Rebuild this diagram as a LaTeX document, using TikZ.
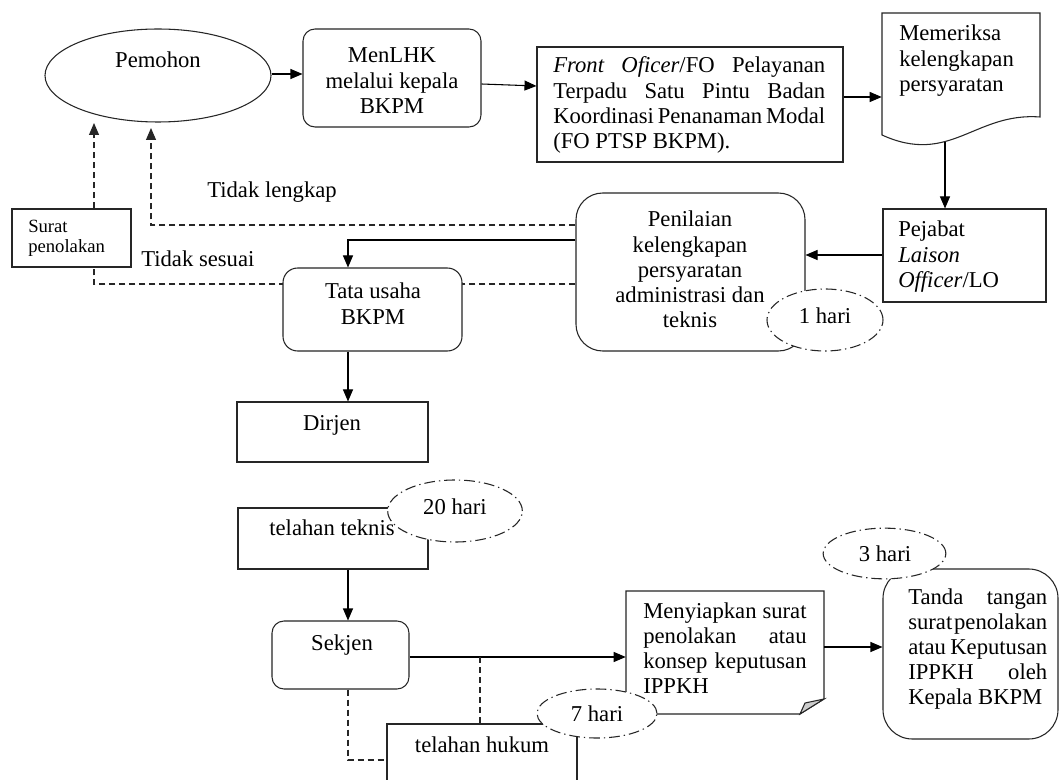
\documentclass[tikz,border=0pt]{standalone}
\usepackage{fontspec}
\setmainfont{Liberation Serif}
\usetikzlibrary{arrows.meta,fit,shapes.geometric}
\newcommand{\Jrow}[2]{\hbox to #1{\spaceskip=0.25em plus 1fil minus 0.25em\relax #2}}
\newcommand{\Crow}[2]{\hbox to #1{\hfil #2\hfil}}
\newcommand{\Lrow}[1]{\hbox{#1}}
\begin{document}
\begin{tikzpicture}[x=0.75pt,y=-0.75pt,
  every node/.style={font=\fontsize{17}{18.9}\selectfont, inner sep=0pt},
  shp/.style={draw=black!85, line width=0.8pt, inner sep=0pt},
  sqbox/.style={shp, rectangle, fill=white},
  rbox/.style={shp, rectangle, rounded corners=#1, fill=white},
  ghost/.style={rectangle, draw=none, inner sep=0pt},
  oval/.style={shp, ellipse},
  dur/.style={shp, ellipse, fill=white, dash pattern=on 8pt off 3pt on 1pt off 3pt},
  arr/.style={draw=black, line width=0.8pt, -{Triangle[length=9pt,width=7.5pt]}},
  dsh/.style={draw=black!85, line width=0.8pt, dash pattern=on 4.5pt off 3pt},
  dsharr/.style={dsh, -{Triangle[length=9pt,width=7.5pt]}},
  small/.style={font=\fontsize{14}{15}\selectfont}
]
\useasboundingbox (0,0) rectangle (1060,780);
\fill[white] (0,0) rectangle (1060,780);
\clip (0,0) rectangle (1060,780);

% ---------- top row ----------
\node[oval, minimum width=169.5pt, minimum height=69.75pt] (pem) at (158,75.5) {};
\node[rbox=9pt, fit={(303,29) (481,127)}] (men) {};
\node[sqbox, fit={(537,47) (843,162)}] (fo) {};
\node[ghost, fit={(882,13) (1040,142)}] (mem) {};
\draw[shp] (882,135) -- (882,13) -- (1040,13) -- (1040,117)
  .. controls (975,112) and (950,166) .. (882,135) -- cycle;
\node[sqbox, fit={(883,209) (1046,302)}] (pej) {};

% ---------- middle ----------
\node[rbox=20pt, fit={(576,193) (805,351)}] (pen) {};
\node[sqbox, fit={(12,209) (131,267)}] (sur) {};
\coordinate (pemA) at (151,128);
\coordinate (pemB) at (94,123);
\draw[dsharr] (pen.west |- 0,225) -| (pemA);
\draw[dsh] (pen.west |- 0,284) -- (94,284) -- (sur.south -| 94,0);
\draw[dsharr] (sur.north -| 94,0) -- (pemB);
\node[rbox=11pt, fit={(283,268) (462,351)}] (tu) {};
\node[dur, minimum width=87pt, minimum height=46.5pt] (d1) at (825,320) {};
\node[sqbox, fit={(237,402) (428,462)}] (dir) {};

% ---------- bottom ----------
\node[sqbox, fit={(238,508) (428,569)}] (tt) {};
\node[dur, minimum width=101pt, minimum height=46.5pt] (d20) at (455,511) {};
\node[rbox=9pt, fit={(272,621) (409,689)}] (sek) {};
\node[sqbox, fit={(387,724) (577,800)}] (th) {};
\node[ghost, fit={(626,591) (824,714)}] (meny) {};
\draw[shp, fill=white] (626,591) -- (824,591) -- (824,699) -- (800,714) -- (626,714) -- cycle;
\filldraw[shp, fill=black!20] (824,699) -- (805,703) -- (800,714) -- cycle;
\node[rbox=22pt, fit={(883,569) (1058,739)}] (tan) {};
\node[dur, minimum width=90pt, minimum height=36.75pt] (d7) at (597,713.5) {};
\node[dur, minimum width=92pt, minimum height=38pt] (d3) at (884.5,553.5) {};

% ---------- connectors ----------
\draw[arr] (pem.east |- 0,74) -- (men.west |- 0,74);
\draw[arr] (men.east |- 0,84) -- (fo.west |- 0,86);
\draw[arr] (fo.east |- 0,97) -- (mem.west |- 0,97);
\draw[arr] (mem.south -| 945,0) -- (pej.north -| 945,0);
\draw[arr] (pej.west |- 0,255) -- (pen.east |- 0,255);
\draw[arr] (pen.west |- 0,240) -| (tu.north -| 348,0);
\draw[arr] (tu.south -| 348,0) -- (dir.north -| 348,0);
\draw[arr] (tt.south -| 348,0) -- (sek.north -| 348,0);
\draw[arr] (sek.east |- 0,657) -- (meny.west |- 0,657);
\coordinate (j1) at (480,657);
\draw[dsh] (j1) -- (th.north -| 480,0);
\draw[dsh] (sek.south -| 348,0) |- (th.west |- 0,760);
\draw[arr] (meny.east |- 0,647) -- (tan.west |- 0,647);

% ---------- texts ----------
\node[anchor=base] (tpem) at (158,68) {Pemohon};
\node[anchor=base] (tmen) at (392,63) {\vtop{\Crow{130pt}{MenLHK}\Crow{130pt}{melalui kepala}\Crow{130pt}{BKPM}}};
\node[anchor=base west] (tfo) at (553,73) {\vtop{%
  \Jrow{204pt}{\textit{Front Oficer}/FO Pelayanan}%
  \Jrow{204pt}{Terpadu Satu Pintu Badan}%
  \Jrow{204pt}{Koordinasi Penanaman Modal}%
  \Lrow{(FO PTSP BKPM).}}};
\node[anchor=base west] (tmem) at (899,41) {\vtop{\Lrow{Memeriksa}\Lrow{kelengkapan}\Lrow{persyaratan}}};
\node[anchor=base west] (tpej) at (898,237) {\vtop{\Lrow{Pejabat}\Lrow{\textit{Laison}}\Lrow{\textit{Officer}/LO}}};
\node[anchor=base] (tpen) at (690,227) {\vtop{\Crow{160pt}{Penilaian}\Crow{160pt}{kelengkapan}\Crow{160pt}{persyaratan}\Crow{160pt}{administrasi dan}\Crow{160pt}{teknis}}};
\node[anchor=base] (t1) at (825,324) {1 hari};
\node[small, anchor=base west] (tsur) at (28,233) {\vtop{\Lrow{Surat}\Lrow{penolakan}}};
\node[anchor=base west] (ttl) at (207,198) {Tidak lengkap};
\node[anchor=base west] (tts) at (141,267) {Tidak sesuai};
\node[anchor=base] (ttu) at (373,299) {\vtop{\Crow{120pt}{Tata usaha}\Crow{120pt}{BKPM}}};
\node[anchor=base] (tdir) at (332,431) {Dirjen};
\node[anchor=base] (ttt) at (332,535) {telahan teknis};
\node[anchor=base] (t20) at (455,514) {20 hari};
\node[anchor=base] (tsek) at (342,650) {Sekjen};
\node[anchor=base] (tth) at (482,752) {telahan hukum};
\node[anchor=base] (t7) at (597,721) {7 hari};
\node[anchor=base west] (tmeny) at (643,618) {\vtop{%
  \Jrow{122.5pt}{Menyiapkan surat}%
  \Jrow{122.5pt}{penolakan atau}%
  \Jrow{122.5pt}{konsep keputusan}%
  \Lrow{IPPKH}}};
\node[anchor=base west] (ttan) at (908,604) {\vtop{%
  \Jrow{104.25pt}{Tanda tangan}%
  \Jrow{104.25pt}{surat penolakan}%
  \Jrow{104.25pt}{atau Keputusan}%
  \Jrow{104.25pt}{IPPKH oleh}%
  \Lrow{Kepala BKPM}}};
\node[anchor=base] (t3) at (885,561) {3 hari};
\end{tikzpicture}
\end{document}
